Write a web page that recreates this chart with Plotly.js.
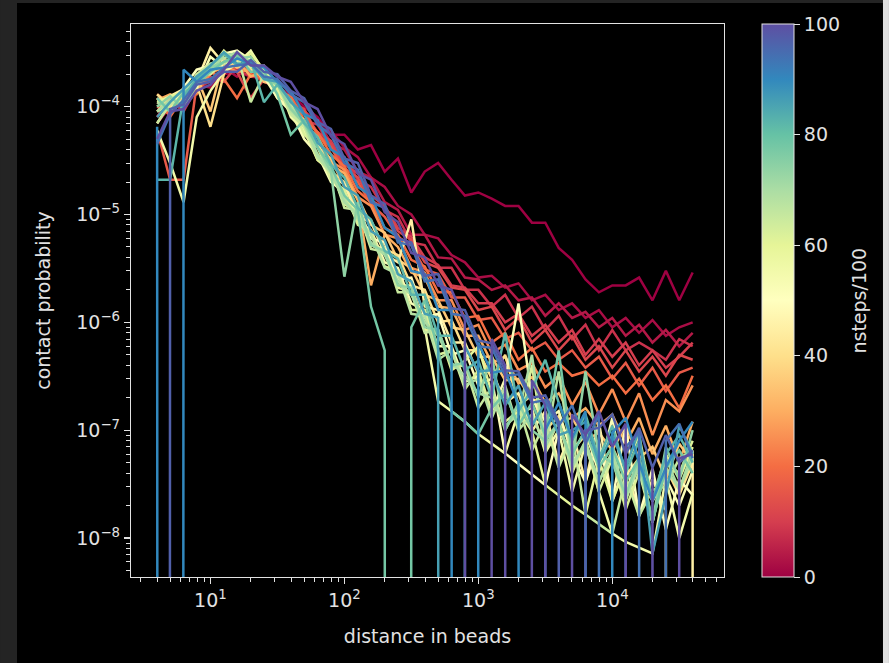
<!DOCTYPE html>
<html>
<head>
<meta charset="utf-8">
<script src="https://cdn.plot.ly/plotly-3.0.1.min.js"></script>
<style>
html,body{margin:0;padding:0;background:#000;}
#chart{width:889px;height:663px;}
</style>
</head>
<body>
<div id="chart"></div>
<script>
// distance bins (beads)
const xs = [4, 5, 6.3, 7.9, 10, 12.6, 15.8, 20, 25.1, 31.6, 39.8, 50.1, 63.1, 79.4, 100, 126, 158, 200, 251, 316, 398, 501, 631, 794, 1000, 1259, 1585, 1995, 2512, 3162, 3981, 5012, 6310, 7943, 10000, 12589, 15849, 19953, 25119, 31623, 39811];

// contact probability curves, one per snapshot (value 0 = no contacts in that bin)
const p000 = [9e-5,1.1e-4,1.3e-4,1.5e-4,1.8e-4,2.0e-4,2.1e-4,1.9e-4,1.8e-4,1.5e-4, 1.3e-4,1.0e-4,8e-5,5.5e-5,5.5e-5,4.0e-5,4.4e-5,2.5e-5,3.3e-5,1.6e-5, 2.5e-5,3.0e-5,2.1e-5,1.5e-5,1.6e-5,1.4e-5,1.2e-5,1.2e-5,8.4e-6,8.4e-6, 4.9e-6,3.8e-6,2.5e-6,1.9e-6,2.2e-6,2.2e-6,2.6e-6,1.6e-6,3.0e-6,1.6e-6,2.9e-6];
const p002 = [8e-5,1.2e-4,1.1e-4,1.6e-4,1.5e-4,2.3e-4,1.9e-4,2.5e-4,1.7e-4,1.8e-4, 1.3e-4,1.1e-4,7.5e-5,6e-5,4.2e-5,3.4e-5,2.2e-5,1.8e-5,1.2e-5,1.0e-5, 6.5e-6,6e-6,4.2e-6,3.6e-6,2.6e-6,2.7e-6,2.1e-6,2.3e-6,1.6e-6,1.8e-6, 1.3e-6,1.5e-6,1.1e-6,1.3e-6,9e-7,1.1e-6,8e-7,1.05e-6,7.5e-7,9e-7,1.0e-6];
const p004 = [7e-5,1.0e-4,1.3e-4,1.4e-4,1.8e-4,2.0e-4,2.5e-4,2.1e-4,2.0e-4,1.5e-4, 1.25e-4,9e-5,7.5e-5,4.6e-5,4e-5,2.5e-5,2.2e-5,1.3e-5,1.1e-5,6.5e-6, 6.5e-6,4e-6,3.9e-6,2.6e-6,2.5e-6,2.0e-6,2.2e-6,1.6e-6,1.7e-6,1.15e-6, 1.5e-6,1.1e-6,1.25e-6,9e-7,1.1e-6,7.5e-7,9.5e-7,6.5e-7,8.5e-7,6e-7,8e-7];
const p008 = [8e-5,1.15e-4,9e-5,1.5e-4,1.7e-4,2.1e-4,2.2e-4,1.9e-4,1.9e-4,1.3e-4, 1.15e-4,7.5e-5,6.8e-5,4.2e-5,3.4e-5,2.1e-5,1.8e-5,1.1e-5,9.5e-6,5.5e-6, 5.2e-6,3.2e-6,3.2e-6,2.0e-6,2.0e-6,1.4e-6,1.8e-6,1.1e-6,1.4e-6,8.5e-7, 1.15e-6,7e-7,9.5e-7,5.5e-7,8.5e-7,5.5e-7,6.5e-7,5.5e-7,4.5e-7,7e-7,6e-7];
const p010 = [1.1e-4,9.5e-5,1.25e-4,1.6e-4,1.9e-4,1.7e-4,2.4e-4,2.0e-4,1.7e-4,1.5e-4, 1.05e-4,8.5e-5,5.8e-5,4.8e-5,2.9e-5,2.4e-5,1.5e-5,1.2e-5,7.5e-6,6.2e-6, 4e-6,3.4e-6,2.2e-6,2.1e-6,1.5e-6,1.5e-6,1.0e-6,1.2e-6,7.5e-7,9.5e-7, 6.5e-7,8.5e-7,5e-7,7e-7,4.8e-7,6.5e-7,4e-7,5.5e-7,3.8e-7,4.8e-7,6.5e-7];
const p012 = [1.0e-4,8.5e-5,1.35e-4,1.6e-4,1.75e-4,2.3e-4,2.1e-4,1.2e-4,1.8e-4,1.6e-4, 1.1e-4,9.5e-5,5.5e-5,4.5e-5,2.7e-5,2.2e-5,1.35e-5,1.15e-5,7e-6,5.8e-6, 3.6e-6,3.2e-6,2.1e-6,2.0e-6,1.3e-6,1.4e-6,8.5e-7,1.1e-6,6.5e-7,8.5e-7, 5.5e-7,7.5e-7,4.5e-7,6e-7,3.8e-7,5.5e-7,3.5e-7,4.8e-7,3.2e-7,5e-7,4.5e-7];
const p016 = [6e-5,2.1e-5,2.1e-5,1.6e-4,1.8e-4,2.2e-4,2.3e-4,2.2e-4,1.7e-4,1.65e-4, 1.0e-4,9e-5,5.5e-5,4.2e-5,2.5e-5,2.0e-5,1.25e-5,9.5e-6,6.2e-6,5.2e-6, 3.1e-6,2.8e-6,1.7e-6,1.7e-6,1.05e-6,1.1e-6,7e-7,8e-7,5.5e-7,6.5e-7, 4.5e-7,5.5e-7,3.8e-7,4.8e-7,3e-7,4.2e-7,2.6e-7,3.8e-7,2.3e-7,3.4e-7,3.8e-7];
const p020 = [1.2e-4,8e-5,1.25e-4,1.3e-4,2.1e-4,1.8e-4,1.2e-4,2.0e-4,1.8e-4,1.4e-4, 1.25e-4,7.5e-5,5.8e-5,3.6e-5,2.8e-5,1.65e-5,1.3e-5,7.5e-6,6.5e-6,3.8e-6, 3.3e-6,1.9e-6,1.9e-6,1.1e-6,1.15e-6,6.5e-7,8e-7,4.5e-7,5.8e-7,3.5e-7, 4.2e-7,3.2e-7,3.5e-7,2.6e-7,3.2e-7,2.2e-7,3e-7,1.9e-7,2.6e-7,1.6e-7,3.2e-7];
const p025 = [1.3e-4,1.05e-4,1.05e-4,1.5e-4,2.0e-4,2.4e-4,2.1e-4,2.2e-4,2.0e-4,1.35e-4, 1.15e-4,6.8e-5,5.3e-5,3.1e-5,2.6e-5,1.45e-5,1.2e-5,6.5e-6,6e-6,3.2e-6, 2.9e-6,1.6e-6,1.6e-6,8.5e-7,9.5e-7,5.2e-7,6.2e-7,3.6e-7,4.2e-7,2.5e-7, 3.2e-7,1.7e-7,2.8e-7,1.4e-7,2.4e-7,1.2e-7,2.2e-7,9e-8,1.9e-7,1.5e-7,2.6e-7];
const p030 = [1.15e-4,1.3e-4,1.15e-4,1.35e-4,2.3e-4,2.1e-4,2.7e-4,1.9e-4,2.1e-4,1.3e-4, 1.05e-4,6.5e-5,5.2e-5,2.9e-5,2.4e-5,1.35e-5,2.2e-6,6.5e-6,5e-6,2.9e-6, 2.6e-6,1.4e-6,1.35e-6,7.5e-7,7.5e-7,4.2e-7,4.8e-7,2.7e-7,3.1e-7,1.8e-7, 2.2e-7,1.3e-7,1.6e-7,1.1e-7,1.4e-7,7.5e-8,1.3e-7,6e-8,1.1e-7,5e-8,1.2e-7];
const p035 = [9e-5,1.25e-4,1.35e-4,1.9e-4,9e-5,2.8e-4,2.3e-4,2.6e-4,1.7e-4,1.6e-4, 9.5e-5,7.5e-5,4.2e-5,3.3e-5,1.8e-5,1.45e-5,8e-6,6.8e-6,3.8e-6,3.2e-6, 1.8e-6,1.6e-6,9e-7,8.5e-7,4.8e-7,4.8e-7,2.9e-7,3e-7,1.9e-7,1.9e-7, 1.2e-7,1.3e-7,8e-8,9.5e-8,6.5e-8,1.1e-7,5.5e-8,7e-8,3.5e-8,7.5e-8,5e-8];
const p040 = [1.3e-4,1.0e-4,1.35e-4,1.6e-4,6.5e-5,2.0e-4,3.1e-4,2.2e-4,2.0e-4,1.3e-4, 1.0e-4,6e-5,4.6e-5,2.5e-5,2.0e-5,1.05e-5,8.8e-6,4.8e-6,4.2e-6,2.2e-6, 2.0e-6,1.0e-6,1.05e-6,5.5e-7,5.5e-7,3e-7,5e-7,1.7e-7,2.1e-7,1.0e-7, 1.35e-7,6.5e-8,9e-8,4.5e-8,7e-8,3.8e-8,5.5e-8,2.2e-8,4.5e-8,2.5e-8,5e-8];
const p045 = [1.0e-4,1.25e-4,1.45e-4,1.7e-4,3.5e-4,2.5e-4,2.6e-4,2.8e-4,2.1e-4,1.2e-4, 9.5e-5,5.5e-5,4.4e-5,2.3e-5,1.9e-5,9.5e-6,8.5e-6,4.3e-6,3.6e-6,9e-6, 1.4e-6,1.3e-6,6.5e-7,6.5e-7,3.3e-7,3.6e-7,1.8e-7,2.2e-7,9.8e-8,1.5e-7, 5e-8,1.0e-7,3.3e-8,1.2e-7,2.2e-8,5e-8,1.6e-8,3.5e-8,1.8e-8,0,6.5e-8];
const p050 = [1.2e-4,9e-5,1.5e-4,2.2e-4,2.4e-4,3.1e-4,3.3e-4,2.7e-4,2.1e-4,1.5e-4, 8.5e-5,6e-5,3.4e-5,2.7e-5,1.4e-5,1.2e-5,6e-6,5.5e-6,2.5e-6,2.6e-6, 1.1e-6,1.2e-6,5e-7,5.5e-7,2.6e-7,3e-7,6.1e-8,4.9e-8,3.9e-8,3.1e-8, 1.0e-7,6e-8,3.3e-8,8e-8,2.2e-8,1.1e-7,1.6e-8,4.4e-8,1.2e-8,3.5e-8,2.5e-8];
const p052 = [7e-5,1.1e-4,1.3e-4,1.5e-4,2.9e-4,2.3e-4,2.9e-4,2.4e-4,1.9e-4,1.2e-4, 9e-5,5e-5,3.6e-5,2.0e-5,1.6e-5,8.5e-6,7.2e-6,3.6e-6,3.2e-6,1.5e-6, 1.3e-6,6e-7,6e-7,2.8e-7,3.2e-7,1.5e-7,3e-7,1.5e-6,2.0e-7,1.2e-7, 1.5e-7,6e-8,1.0e-7,4e-8,1.3e-7,2.8e-8,5e-8,2.2e-8,3.6e-8,2e-8,4.2e-8];
const p055 = [6e-5,3e-5,1.3e-5,8e-5,1.4e-4,2.1e-4,2.5e-4,3.3e-4,2.1e-4,1.7e-4, 8e-5,6e-5,3.2e-5,2.5e-5,1.3e-5,1.1e-5,5.2e-6,4.8e-6,2.2e-6,2.2e-6, 9e-7,1.85e-7,1.5e-7,1.2e-7,9.2e-8,7.5e-8,6.1e-8,1.5e-7,1.6e-7,6.2e-8, 1.0e-7,2.7e-8,7.5e-8,2.7e-8,1.1e-8,9.2e-9,8.2e-9,7.2e-9,3.6e-8,1.0e-8,2.6e-8];
const p060 = [1.1e-4,1.25e-4,1.35e-4,1.8e-4,2.2e-4,3.3e-4,2.5e-4,3.1e-4,2.2e-4,1.4e-4, 9.5e-5,6.5e-5,3.2e-5,2.6e-5,1.25e-5,1.05e-5,5.2e-6,4.5e-6,2.1e-6,1.9e-6, 8.5e-7,8.5e-7,3.6e-7,4.4e-7,6e-7,2.2e-7,1.2e-7,1.5e-7,9.8e-8,3.1e-8, 2.5e-8,2.0e-8,1.65e-8,5.4e-8,2.2e-8,4.6e-8,9e-8,2.2e-8,6e-8,3.5e-8,7e-8];
const p062 = [9e-5,1.05e-4,1.25e-4,2.0e-4,2.0e-4,2.6e-4,2.9e-4,2.3e-4,2.4e-4,1.4e-4, 1.1e-4,5.5e-5,4.2e-5,2.1e-5,1.7e-5,8e-6,7e-6,3.3e-6,3e-6,1.3e-6, 1.3e-6,5e-7,5.5e-7,2.4e-7,3.6e-7,1.5e-7,2.4e-7,9.8e-8,4e-7,6.2e-8, 1.25e-7,4e-8,8e-8,2.7e-8,5.5e-8,1.84e-8,4.1e-8,1.4e-8,5e-8,4e-8,8e-8];
const p065 = [7e-5,1.05e-4,1.15e-4,2.0e-4,2.5e-4,2.5e-4,3.0e-4,1.1e-4,2.0e-4,1.6e-4, 8.5e-5,6.5e-5,3.3e-5,2.8e-5,1.15e-5,1.1e-5,4.8e-6,4.5e-6,1.9e-6,1.9e-6, 8e-7,8.5e-7,3.8e-7,4e-7,1.6e-7,2.5e-7,1.0e-7,1.7e-7,6.5e-8,1.2e-7, 4.5e-8,9e-8,1.65e-8,1.35e-8,1.1e-8,3.7e-8,1.6e-8,2.8e-8,3e-8,5.5e-8,6.5e-8];
const p068 = [1.1e-4,9e-5,1.4e-4,1.7e-4,2.5e-4,2.8e-4,3.2e-4,2.6e-4,1.9e-4,1.6e-4, 9e-5,7e-5,3.4e-5,2.4e-5,1.4e-5,9e-6,6.5e-6,3.2e-6,2.8e-6,1.2e-6, 1.15e-6,4.5e-7,5.5e-7,2.6e-7,3e-7,1.3e-7,2.6e-7,1.0e-7,1.4e-7,7e-8, 3.5e-7,5e-8,7e-8,3.3e-8,6e-8,2.2e-8,5e-8,1.4e-8,4.5e-8,2.8e-8,5.5e-8];
const p070 = [9e-5,1.15e-4,1.4e-4,1.9e-4,2.1e-4,3.0e-4,3.1e-4,2.6e-4,1.9e-4,1.7e-4, 1.0e-4,7e-5,3.6e-5,2.5e-5,1.3e-5,1.0e-5,5.5e-6,4.2e-6,2.4e-6,1.8e-6, 1.0e-6,7.5e-7,4.2e-7,3.2e-7,2.2e-7,2.0e-7,1.1e-7,1.4e-7,5e-7,7e-8, 1.2e-7,4.5e-8,8e-8,3.3e-8,6.5e-8,2.5e-8,4.5e-8,1.4e-8,5.5e-8,2.8e-8,6.5e-8];
const p074 = [1.0e-4,1.25e-4,9.5e-5,1.6e-4,2.3e-4,2.6e-4,2.8e-4,2.9e-4,1.8e-4,1.6e-4, 9.5e-5,7e-5,4.2e-5,2.5e-5,2.65e-6,1.3e-5,5.2e-6,4.6e-6,2.2e-6,2.1e-6, 9e-7,8.5e-7,4e-7,4.2e-7,2.0e-7,5e-7,1.0e-7,1.8e-7,1.0e-7,8e-8, 1.2e-7,5e-8,3.5e-7,6e-8,5e-8,2.5e-8,5.5e-8,1.4e-8,7e-8,3.5e-8,1.0e-7];
const p078 = [1.2e-4,9e-5,1.35e-4,1.6e-4,2.1e-4,2.6e-4,3.0e-4,2.1e-4,2.1e-4,1.3e-4, 5.5e-5,7.5e-5,4.2e-5,2.8e-5,1.5e-5,1.1e-5,1.4e-6,5.5e-7,0,9e-7, 1.6e-6,5.5e-7,1.5e-7,1.2e-7,9.2e-8,1.6e-7,2.2e-7,1.1e-7,1.8e-7,9e-8, 5.5e-7,6e-8,1.0e-7,4.5e-8,7e-8,3.3e-8,5.5e-8,1.4e-8,4.5e-8,6.5e-8,4e-8];
const p082 = [2.1e-5,2.1e-5,1.25e-4,1.8e-4,2.4e-4,3.1e-4,2.4e-4,2.7e-4,1.1e-4,1.6e-4, 1.15e-4,7e-5,5.2e-5,2.9e-5,2.2e-5,1.15e-5,9e-6,4.6e-6,3.9e-6,1.8e-6, 1.8e-6,7.5e-7,7.5e-7,3.6e-7,4.4e-7,2.0e-7,8e-7,1.5e-7,2.4e-7,4.5e-7, 1.8e-7,8e-8,1.4e-7,5.4e-8,1.1e-7,4e-8,8e-8,2.2e-8,6e-8,9e-8,5e-8];
const p086 = [8e-5,1.1e-4,1.45e-4,1.9e-4,2.4e-4,3.2e-4,2.5e-4,2.5e-4,1.8e-4,1.7e-4, 1.1e-4,8.5e-5,4.6e-5,3.6e-5,1.8e-5,1.5e-5,7e-6,5.8e-6,2.8e-6,2.4e-6, 1.2e-6,1.1e-6,0,6e-7,3.5e-7,3.6e-7,1.7e-7,2.6e-7,1.1e-7,1.8e-7, 9e-8,1.0e-7,1.2e-7,5e-8,9e-8,4.5e-8,1.0e-7,7.2e-9,2.5e-8,1.1e-7,6e-8];
const p090 = [6.5e-5,0,2.2e-4,1.7e-4,2.2e-4,2.3e-4,2.8e-4,2.5e-4,2.3e-4,1.7e-4, 1.4e-4,8.5e-5,7.5e-5,4e-5,3.4e-5,1.8e-5,1.5e-5,7.5e-6,6.2e-6,3e-6, 2.8e-6,1.3e-6,1.3e-6,0,6.5e-7,3.4e-7,3.6e-7,1.7e-7,0,1.0e-7, 1.8e-7,8.5e-8,1.5e-7,0,9.5e-8,1.3e-7,5e-8,2.2e-8,4.5e-8,8e-8,1.2e-7];
const p094 = [4.5e-5,8.5e-5,1.15e-4,1.7e-4,1.8e-4,2.3e-4,2.4e-4,2.5e-4,1.9e-4,1.8e-4, 1.3e-4,1.1e-4,6.8e-5,5.5e-5,3e-5,2.6e-5,1.3e-5,1.15e-5,5.5e-6,5.2e-6, 2.4e-6,2.5e-6,1.2e-6,1.15e-6,6e-7,5.8e-7,3.2e-7,3.3e-7,1.8e-7,1.9e-7, 1.1e-7,1.7e-7,7.5e-8,1.4e-7,0,7e-8,9.5e-8,0,8e-8,1.15e-7,5.5e-8];
const p097 = [0,9.5e-5,1.05e-4,1.6e-4,1.7e-4,2.1e-4,2.1e-4,2.7e-4,2.1e-4,2.0e-4, 1.4e-4,1.2e-4,7.2e-5,6.2e-5,3.3e-5,3e-5,1.5e-5,1.25e-5,6e-6,5.5e-6, 2.7e-6,2.8e-6,1.35e-6,1.3e-6,6.8e-7,6.4e-7,3.6e-7,3.5e-7,2.0e-7,2.1e-7, 1.2e-7,0,1.0e-7,1.05e-7,1.4e-7,6e-8,1.05e-7,4.5e-8,9e-8,5e-8,6.5e-8];
const p100 = [5e-5,9e-5,9.5e-5,1.4e-4,1.6e-4,2.2e-4,3.2e-4,2.4e-4,2.4e-4,1.9e-4, 1.7e-4,1.1e-4,9.5e-5,5.3e-5,4.5e-5,2.4e-5,2.1e-5,1.05e-5,8.5e-6,4.4e-6, 4e-6,2.2e-6,2e-6,1.05e-6,0,7e-7,4e-7,0,2.9e-7,1.7e-7, 0,1.4e-7,9e-8,1.5e-7,7e-8,1.15e-7,0,4.5e-8,0,5.5e-8,6e-8];

const nsteps = [0, 2, 4, 8, 10, 12, 16, 20, 25, 30, 35, 40, 45, 50, 52, 55, 60, 62, 65, 68, 70, 74, 78, 82, 86, 90, 94, 97, 100];
const curves = [p000, p002, p004, p008, p010, p012, p016, p020, p025, p030, p035, p040, p045, p050, p052, p055, p060, p062, p065, p068, p070, p074, p078, p082, p086, p090, p094, p097, p100];

const colorTicks = [0, 20, 40, 60, 80, 100];

// matplotlib "Spectral" colormap
const spectral = [[0,'#9e0142'],[0.1,'#d53e4f'],[0.2,'#f46d43'],[0.3,'#fdae61'],[0.4,'#fee08b'],[0.5,'#ffffbf'],[0.6,'#e6f598'],[0.7,'#abdda4'],[0.8,'#66c2a5'],[0.9,'#3288bd'],[1,'#5e4fa2']];
function hex2rgb(h){return [parseInt(h.slice(1,3),16),parseInt(h.slice(3,5),16),parseInt(h.slice(5,7),16)];}
function cmap(t){
  t = Math.max(0, Math.min(1, t));
  for (let i = 0; i < spectral.length - 1; i++) {
    const a = spectral[i], b = spectral[i+1];
    if (t <= b[0]) {
      const f = (t - a[0]) / (b[0] - a[0]);
      const ca = hex2rgb(a[1]), cb = hex2rgb(b[1]);
      return 'rgb(' + ca.map((v, j) => Math.round(v + f * (cb[j] - v))).join(',') + ')';
    }
  }
  return spectral[spectral.length-1][1];
}

const fg = '#e2e2e2';
const FONT = 'DejaVu Sans, sans-serif';

const traces = curves.map((ys, i) => ({
  type: 'scatter', mode: 'lines',
  x: xs,
  // zero counts are clipped far below the axis, as matplotlib does on log axes
  y: ys.map(v => v > 0 ? v : 1e-300),
  line: {color: cmap(nsteps[i] / 100), width: 2.5},
  hoverinfo: 'skip', showlegend: false
}));

// colorbar carrier (invisible markers)
traces.push({
  type: 'scatter', mode: 'markers', x: xs, y: p000,
  marker: {size: 1, opacity: 0, color: xs.map(() => nsteps[0]), cmin: 0, cmax: 100,
    colorscale: spectral, showscale: true,
    colorbar: {
      x: 1.0645, xanchor: 'left', xpad: 0, y: 0.5, yanchor: 'middle', ypad: 0,
      len: 1, lenmode: 'fraction', thickness: 32, thicknessmode: 'pixels',
      outlinewidth: 1, outlinecolor: fg, bgcolor: 'rgba(0,0,0,0)',
      tickmode: 'array', tickvals: colorTicks, ticktext: colorTicks.map(String),
      ticks: 'outside', ticklen: 6, tickwidth: 1, tickcolor: fg,
      tickfont: {family: FONT, size: 19, color: fg}
    }},
  hoverinfo: 'skip', showlegend: false
});

const xTickVals = [10, 100, 1000, 10000];
const xTickText = ['10<sup>1</sup>', '10<sup>2</sup>', '10<sup>3</sup>', '10<sup>4</sup>'];
const yTickVals = [1e-8, 1e-7, 1e-6, 1e-5, 1e-4];
const yTickText = ['10<sup>\u22128</sup>', '10<sup>\u22127</sup>', '10<sup>\u22126</sup>', '10<sup>\u22125</sup>', '10<sup>\u22124</sup>'];

const axisCommon = {
  type: 'log', showgrid: false, zeroline: false,
  showline: true, linecolor: fg, linewidth: 1.2, mirror: true,
  ticks: 'outside', ticklen: 6, tickwidth: 1.2, tickcolor: fg,
  tickmode: 'array',
  tickfont: {family: FONT, size: 19, color: fg},
  minor: {ticks: 'outside', ticklen: 3.5, tickwidth: 1, tickcolor: fg, dtick: 'D1', showgrid: false}
};

const layout = {
  width: 889, height: 663,
  paper_bgcolor: '#000', plot_bgcolor: '#000',
  margin: {l: 131, r: 165, t: 24, b: 86},
  font: {family: FONT, color: fg, size: 19},
  showlegend: false, hovermode: false,
  xaxis: Object.assign({}, axisCommon, {
    range: [0.407, 4.834], tickvals: xTickVals, ticktext: xTickText,
    title: {text: 'distance in beads', font: {family: FONT, size: 19, color: fg}, standoff: 19}
  }),
  yaxis: Object.assign({}, axisCommon, {
    range: [-8.361, -3.234], tickvals: yTickVals, ticktext: yTickText,
    title: {text: 'contact probability', font: {family: FONT, size: 19, color: fg}, standoff: 20}
  }),
  annotations: [
    {text: 'nsteps/100', xref: 'paper', yref: 'paper', x: 1.226, y: 0.5, xanchor: 'center', yanchor: 'middle',
     textangle: -90, showarrow: false, font: {family: FONT, size: 19, color: fg}}
  ],
  shapes: [
    {type: 'rect', xref: 'paper', yref: 'paper', x0: -0.2209, x1: -0.1922, y0: -0.1555, y1: 1.0434, fillcolor: '#242424', line: {width: 0}, layer: 'below'},
    {type: 'rect', xref: 'paper', yref: 'paper', x0: -0.2209, x1: 1.2782, y0: 1.038, y1: 1.0434, fillcolor: '#242424', line: {width: 0}, layer: 'below'},
    {type: 'rect', xref: 'paper', yref: 'paper', x0: 1.2681, x1: 1.2782, y0: -0.1555, y1: 1.0434, fillcolor: '#e0e0e0', line: {width: 0}, layer: 'below'}
  ]
};

Plotly.newPlot('chart', traces, layout, {displayModeBar: false, staticPlot: true});
</script>
</body>
</html>
